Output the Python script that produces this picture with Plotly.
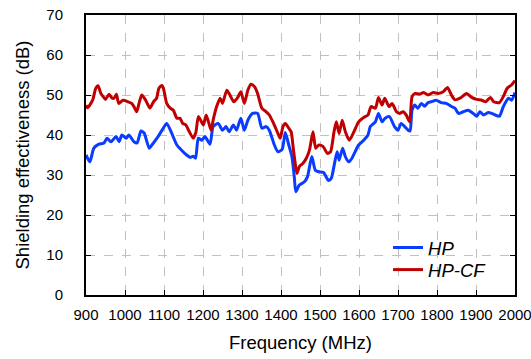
import plotly.graph_objects as go

freq_hp = [900, 910, 920, 933, 946, 954, 964, 977, 985, 992, 1003, 1010, 1023, 1031, 1041, 1049, 1062, 1069, 1082, 1095,
           1107, 1120, 1133, 1145, 1158, 1168, 1175, 1181, 1188, 1197, 1205, 1218, 1226, 1239, 1250, 1259, 1267, 1278, 1286,
           1297, 1306, 1315, 1327, 1340, 1351, 1362, 1370, 1383, 1392, 1403, 1411, 1421, 1428, 1434, 1438, 1447, 1460, 1468,
           1479, 1488, 1497, 1509, 1522, 1529, 1538, 1544, 1549, 1558, 1565, 1574, 1582, 1590, 1599, 1612, 1623, 1629, 1642,
           1650, 1659, 1667, 1678, 1691, 1700, 1708, 1717, 1726, 1731, 1736, 1743, 1751, 1760, 1768, 1777, 1785, 1798, 1811,
           1824, 1836, 1846, 1855, 1867, 1880, 1893, 1902, 1910, 1919, 1931, 1940, 1949, 1960, 1970, 1983, 1991, 2000]
se_hp = [35.0, 33.3, 36.7, 37.7, 38.0, 39.2, 38.3, 39.6, 38.3, 40.0, 39.2, 40.0, 38.3, 38.0, 41.0, 40.5, 36.7, 37.5, 39.2, 41.2,
         42.9, 40.4, 37.5, 36.2, 35.0, 34.4, 34.7, 34.2, 39.2, 38.7, 39.6, 37.7, 42.1, 42.9, 41.2, 42.1, 40.8, 42.5, 41.2,
         44.2, 41.2, 43.7, 45.4, 45.4, 41.7, 42.1, 41.2, 37.5, 35.8, 36.4, 40.6, 37.1, 34.6, 29.6, 25.8, 27.5, 28.3, 29.6,
         34.6, 31.2, 30.8, 30.6, 28.6, 29.2, 33.3, 35.8, 33.7, 36.7, 34.6, 33.3, 34.2, 35.8, 37.5, 38.7, 40.0, 42.1, 43.3,
         45.4, 43.3, 44.2, 44.6, 42.1, 41.2, 42.9, 42.1, 41.2, 41.0, 46.2, 47.5, 46.7, 47.9, 47.2, 48.1, 48.3, 48.7, 48.1,
         47.9, 47.2, 46.7, 45.4, 45.8, 46.2, 45.4, 44.7, 45.8, 45.0, 45.6, 45.4, 45.0, 44.7, 47.1, 49.2, 48.7, 50.6]

freq_cf = [900, 904, 917, 925, 931, 938, 944, 950, 959, 967, 972, 978, 984, 995, 1008, 1017, 1023, 1030, 1036, 1043, 1053,
           1064, 1073, 1081, 1087, 1095, 1099, 1107, 1116, 1124, 1133, 1141, 1148, 1156, 1165, 1175, 1182, 1188, 1194, 1201,
           1208, 1214, 1221, 1226, 1235, 1244, 1250, 1261, 1269, 1279, 1288, 1297, 1306, 1315, 1323, 1332, 1340, 1351, 1362,
           1370, 1381, 1392, 1398, 1405, 1411, 1420, 1426, 1432, 1437, 1441, 1447, 1456, 1465, 1473, 1482, 1489, 1497, 1508,
           1519, 1527, 1536, 1542, 1549, 1557, 1565, 1575, 1587, 1599, 1612, 1623, 1631, 1642, 1650, 1659, 1666, 1677, 1685,
           1696, 1704, 1713, 1721, 1730, 1736, 1744, 1755, 1766, 1777, 1790, 1803, 1816, 1827, 1838, 1846, 1859, 1876, 1889,
           1902, 1915, 1925, 1937, 1945, 1960, 1970, 1980, 1991, 2000]
se_cf = [47.5, 46.8, 48.7, 51.7, 52.3, 50.4, 49.6, 48.9, 50.2, 49.2, 49.2, 50.2, 47.9, 48.7, 48.3, 47.9, 47.1, 45.8, 47.9, 50.0, 48.7,
         46.7, 48.3, 49.2, 51.7, 52.4, 51.5, 47.9, 46.7, 46.2, 44.2, 44.2, 42.9, 42.5, 40.8, 39.2, 40.8, 44.6, 43.7, 42.5,
         45.0, 43.3, 41.2, 43.7, 47.1, 49.2, 47.9, 51.2, 50.0, 48.3, 49.2, 50.8, 47.9, 51.2, 52.7, 52.1, 50.4, 46.7, 45.8,
         45.0, 42.9, 40.4, 39.2, 42.1, 42.9, 41.7, 40.8, 36.2, 32.5, 30.4, 32.1, 32.9, 34.2, 36.2, 40.8, 36.7, 37.5, 37.1,
         35.4, 35.8, 40.8, 43.3, 40.4, 43.7, 40.8, 38.7, 40.8, 43.3, 44.4, 45.0, 47.1, 46.7, 49.4, 47.5, 49.2, 47.1, 47.9,
         45.8, 45.4, 45.8, 45.0, 43.3, 49.6, 50.4, 50.2, 50.6, 50.0, 50.6, 50.4, 50.8, 51.9, 49.8, 48.8, 49.2, 50.4, 49.4,
         48.9, 48.7, 48.3, 49.4, 48.3, 48.1, 49.6, 51.7, 52.5, 53.6]

x_ticks = [900, 1000, 1100, 1200, 1300, 1400, 1500, 1600, 1700, 1800, 1900, 2000]
y_ticks = [0, 10, 20, 30, 40, 50, 60, 70]

FONT = "Liberation Sans, Arial, sans-serif"

fig = go.Figure()
fig.add_trace(go.Scatter(x=freq_hp, y=se_hp, mode="lines", name="HP", legend="legend",
                         line=dict(color="#0A3CFF", width=3, shape="spline", smoothing=0.6)))
fig.add_trace(go.Scatter(x=freq_cf, y=se_cf, mode="lines", name="HP-CF", legend="legend2",
                         line=dict(color="#C00000", width=3, shape="spline", smoothing=0.6)))

axis_common = dict(showline=True, linecolor="black", linewidth=2,
                   ticks="inside", ticklen=5, tickcolor="black", tickwidth=1,
                   showgrid=True, gridcolor="#C0C0C0", griddash="dash", gridwidth=1,
                   zeroline=False, automargin=False,
                   tickfont=dict(family=FONT, size=15, color="black"))

legend_common = dict(xanchor="left", yanchor="middle",
                     font=dict(family=FONT, size=18.5, color="black", style="italic"),
                     bgcolor="rgba(0,0,0,0)", itemwidth=30)

fig.update_layout(
    width=531, height=359,
    margin=dict(l=86, r=16, t=15, b=64),
    paper_bgcolor="white", plot_bgcolor="white",
    showlegend=True,
    legend=dict(x=0.704, y=0.168, **legend_common),
    legend2=dict(x=0.704, y=0.089, **legend_common),
    xaxis=dict(range=[900, 2000], tickvals=x_ticks, ticktext=[str(v) for v in x_ticks],
               ticklabelstandoff=5, mirror=True, ticklabeloverflow="allow",
               title=dict(text="Frequency (MHz)", font=dict(family=FONT, size=18.5, color="black"), standoff=14),
               **axis_common),
    yaxis=dict(range=[0, 70], tickvals=y_ticks, ticktext=[str(v) for v in y_ticks],
               ticklabelstandoff=18, mirror="ticks",
               title=dict(text="Shielding effectiveness (dB)", font=dict(family=FONT, size=18.5, color="black"), standoff=12),
               **axis_common),
)

fig.write_html("out.html", config={"displayModeBar": False},
               post_script="document.body.style.margin='0';document.body.style.overflow='hidden';")
